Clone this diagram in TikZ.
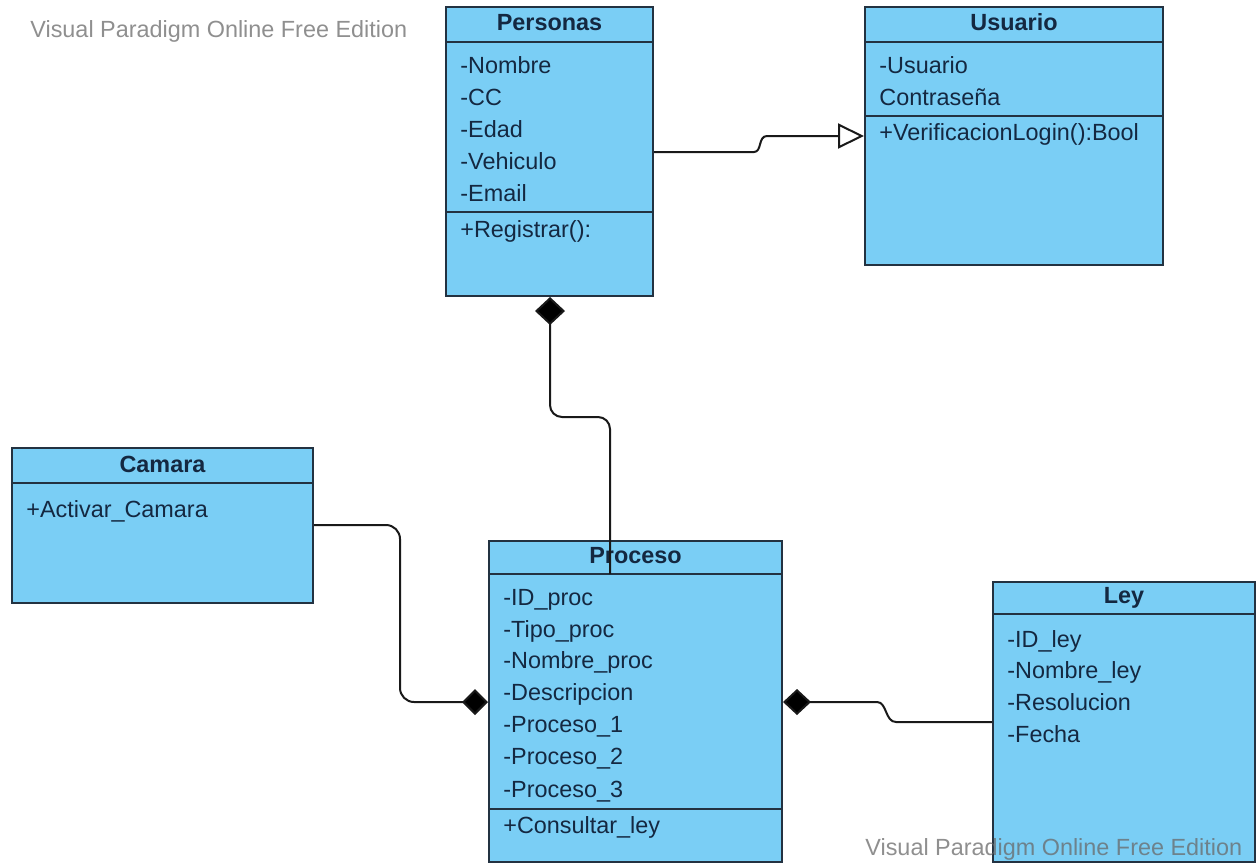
\documentclass[tikz,border=0pt]{standalone}
\usepackage{fontspec}
\setmainfont{Liberation Sans}
\usetikzlibrary{arrows.meta,fit}

\definecolor{classfill}{RGB}{122,206,245}
\definecolor{classedge}{RGB}{35,50,65}
\definecolor{classtext}{RGB}{20,40,65}
\definecolor{linkcolor}{RGB}{25,25,25}
\definecolor{markcolor}{RGB}{105,105,105}

\begin{document}
\begin{tikzpicture}[x=0.5pt, y=-0.5pt,
	classbox/.style={draw=classedge, fill=classfill, line width=1pt, inner sep=0pt},
	divider/.style={draw=classedge, line width=1pt},
	classtitle/.style={font=\fontsize{11.7}{14}\selectfont\bfseries, text=classtext, inner sep=0pt, anchor=base},
	member/.style={font=\fontsize{11.7}{14}\selectfont, text=classtext, inner sep=0pt, anchor=base west},
	link/.style={draw=linkcolor, line width=1pt},
	watermark/.style={font=\fontsize{11.7}{14}\selectfont, text=markcolor, text opacity=0.75, inner sep=0pt, anchor=base west}]
			%%%%% START %%%%%
			
			\useasboundingbox (0,0) rectangle (1256,863);
			
			% Personas
			\node[classbox, fit={(446,7) (653,296)}] (personas) {};
			\draw[divider] (personas.west |- 0,42) -- (personas.east |- 0,42);
			\draw[divider] (personas.west |- 0,212) -- (personas.east |- 0,212);
			\node[classtitle] (personas-title) at (personas.north |- 0,30) {Personas};
			\node[member] (personas-nombre) at (460,73) {-Nombre};
			\node[member] (personas-cc) at (460,105) {-CC};
			\node[member] (personas-edad) at (460,137) {-Edad};
			\node[member] (personas-vehiculo) at (460,169) {-Vehiculo};
			\node[member] (personas-email) at (460,201) {-Email};
			\node[member] (personas-registrar) at (460,237) {+Registrar():};
			
			% Usuario
			\node[classbox, fit={(865,7) (1163,265)}] (usuario) {};
			\draw[divider] (usuario.west |- 0,42) -- (usuario.east |- 0,42);
			\draw[divider] (usuario.west |- 0,116) -- (usuario.east |- 0,116);
			\node[classtitle] (usuario-title) at (usuario.north |- 0,30) {Usuario};
			\node[member] (usuario-usuario) at (879,73) {-Usuario};
			\node[member] (usuario-clave) at (879,105) {Contraseña};
			\node[member] (usuario-login) at (879,140) {+VerificacionLogin():Bool};
			
			% Camara
			\node[classbox, fit={(12,448) (313,603)}] (camara) {};
			\draw[divider] (camara.west |- 0,483) -- (camara.east |- 0,483);
			\node[classtitle] (camara-title) at (camara.north |- 0,472) {Camara};
			\node[member] (camara-activar) at (26,517) {+Activar\_Camara};
			
			% Proceso
			\node[classbox, fit={(489,541) (782,862)}] (proceso) {};
			\coordinate (proceso-head) at (489,574);
			\draw[divider] (proceso-head) -- (proceso.east |- proceso-head);
			\draw[divider] (proceso.west |- 0,809) -- (proceso.east |- 0,809);
			\node[classtitle] (proceso-title) at (proceso.north |- 0,563) {Proceso};
			\node[member] (proceso-id) at (503,605) {-ID\_proc};
			\node[member] (proceso-tipo) at (503,637) {-Tipo\_proc};
			\node[member] (proceso-nombre) at (503,668) {-Nombre\_proc};
			\node[member] (proceso-desc) at (503,700) {-Descripcion};
			\node[member] (proceso-uno) at (503,732) {-Proceso\_1};
			\node[member] (proceso-dos) at (503,764) {-Proceso\_2};
			\node[member] (proceso-tres) at (503,797) {-Proceso\_3};
			\node[member] (proceso-consultar) at (503,833) {+Consultar\_ley};
			
			% Ley
			\node[classbox, fit={(993,582) (1255,862)}] (ley) {};
			\draw[divider] (ley.west |- 0,614) -- (ley.east |- 0,614);
			\node[classtitle] (ley-title) at (ley.north |- 0,603) {Ley};
			\node[member] (ley-id) at (1007,647) {-ID\_ley};
			\node[member] (ley-nombre) at (1007,678) {-Nombre\_ley};
			\node[member] (ley-resolucion) at (1007,710) {-Resolucion};
			\node[member] (ley-fecha) at (1007,742) {-Fecha};
			
			% relations
			\draw[link, -{Triangle[open, length=13pt, width=12.5pt]}] (personas.east |- 0,152) -- (754,152) .. controls (762,152) and (758,136) .. (767,136) -- (usuario.west |- 0,136);
			\draw[link, rounded corners=6pt, {Diamond[length=14pt, width=15pt, fill=black]}-] (personas.south -| 550,0) -- (550,417) -- (610,417) -- (proceso-head -| 610,0);
			\draw[link, rounded corners=7pt, -{Diamond[length=13pt, width=13pt, fill=black]}] (camara.east |- 0,525) -- (400,525) -- (400,702) -- (proceso.west |- 0,702);
			\draw[link, {Diamond[length=14pt, width=13pt, fill=black]}-] (proceso.east |- 0,702) -- (877,702) .. controls (887,702) and (885,722) .. (896,722) -- (ley.west |- 0,722);
			
			% editor marks
			\node[watermark] (mark-top) at (30,37) {Visual Paradigm Online Free Edition};
			\node[watermark] (mark-bottom) at (865,855) {Visual Paradigm Online Free Edition};
			
			%%%%% END %%%%%
\end{tikzpicture}
\end{document}
